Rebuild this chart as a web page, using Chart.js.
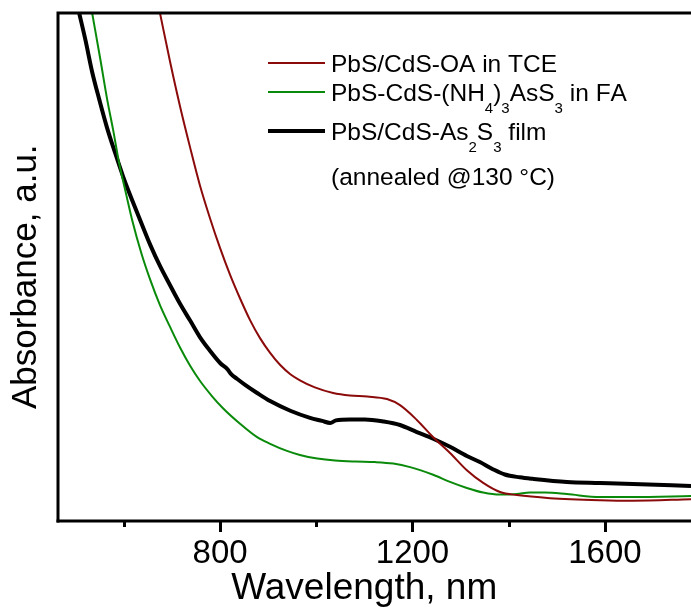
<!DOCTYPE html>
<html><head><meta charset="utf-8">
<script src="https://cdn.jsdelivr.net/npm/chart.js@4"></script>
<style>html,body{margin:0;padding:0;background:#fff;overflow:hidden}canvas{display:block}</style>
</head><body>
<canvas id="c" width="691" height="613"></canvas>
<script>
// ---- data ----
const redWavelength = [675, 696, 717, 738, 758, 779, 800, 821, 842, 862, 883, 904, 925, 946, 966, 997, 1035, 1070, 1106, 1147, 1174, 1209, 1243, 1278, 1313, 1347, 1382, 1417, 1486, 1590, 1658, 1779];
const redAbsorbance = [100, 90.4, 81.5, 73.4, 66.1, 59.6, 53.7, 48.4, 43.7, 39.6, 36.0, 33.1, 30.7, 28.9, 27.7, 26.3, 25.2, 24.7, 24.5, 24.0, 22.8, 19.9, 16.5, 13.4, 10.0, 7.5, 5.7, 5.1, 4.5, 4.1, 4.0, 4.3];

const greenWavelength = [534, 551, 565, 578, 590, 605, 617, 636, 655, 675, 696, 717, 738, 758, 783, 806, 842, 877, 904, 939, 966, 1002, 1039, 1081, 1122, 1160, 1195, 1243, 1278, 1313, 1347, 1382, 1417, 1444, 1475, 1521, 1590, 1658, 1779];
const greenAbsorbance = [100, 90.9, 83.1, 76.8, 70.5, 64.2, 59.3, 52.8, 47.4, 42.5, 38.2, 34.1, 30.5, 27.6, 24.6, 22.2, 19.1, 16.5, 15.2, 13.8, 13.0, 12.3, 11.9, 11.7, 11.6, 11.3, 10.6, 9.1, 7.7, 6.5, 5.6, 5.2, 5.3, 5.6, 5.6, 5.3, 4.7, 4.7, 4.9];

const blackWavelength = [507, 520, 534, 549, 565, 582, 598, 617, 636, 655, 675, 696, 717, 738, 758, 779, 800, 815, 823, 835, 852, 877, 904, 946, 987, 1012, 1029, 1041, 1070, 1101, 1139, 1174, 1209, 1243, 1278, 1313, 1340, 1367, 1392, 1423, 1450, 1521, 1590, 1658, 1779];
const blackAbsorbance = [100, 94.7, 88.4, 82.9, 77.4, 72.4, 67.9, 63.2, 58.7, 54.3, 50.2, 46.4, 42.7, 39.4, 36.2, 33.5, 31.1, 29.9, 28.9, 28.0, 26.8, 25.2, 23.6, 21.7, 20.3, 19.7, 19.3, 19.8, 20.0, 20.0, 19.6, 18.9, 17.5, 16.2, 14.6, 12.8, 11.6, 10.2, 9.15, 8.6, 8.3, 7.7, 7.5, 7.3, 6.9];

const seriesLabels = ['PbS/CdS-OA in TCE', 'PbS-CdS-(NH\u2084)\u2083AsS\u2083 in FA', 'PbS/CdS-As\u2082S\u2083 film'];
const legendNote = '(annealed @130 \u00b0C)';
const xTickValues = [600, 800, 1000, 1200, 1400, 1600];
const xTickLabels = ['800', '1200', '1600'];
const xTitle = 'Wavelength, nm';
const yTitle = 'Absorbance, a.u.';

const FONT = "'Liberation Sans', Arial, sans-serif";
const zip = (xs, ys) => xs.map((x, i) => ({x, y: ys[i]}));

const frameAndTicks = {
  id: 'frameAndTicks',
  afterDatasetsDraw(chart) {
    const {ctx, chartArea: {left, top, right, bottom}, scales: {x}} = chart;
    ctx.save();
    ctx.strokeStyle = '#000';
    ctx.lineWidth = 3;
    ctx.lineJoin = 'miter';
    ctx.beginPath();
    ctx.moveTo(left, bottom + 1.5);
    ctx.lineTo(left, top);
    ctx.lineTo(right + 2, top);
    ctx.stroke();
    ctx.beginPath();
    ctx.moveTo(left - 1.5, bottom);
    ctx.lineTo(right + 2, bottom);
    ctx.stroke();
    xTickValues.forEach(v => {
      const px = Math.round(x.getPixelForValue(v)) + 0.5;
      const major = xTickLabels.includes(String(v));
      ctx.beginPath();
      ctx.moveTo(px, bottom);
      ctx.lineTo(px, bottom + (major ? 11 : 6));
      ctx.stroke();
    });
    ctx.restore();
  }
};

const SUB = {'\u2080':'0','\u2081':'1','\u2082':'2','\u2083':'3','\u2084':'4','\u2085':'5','\u2086':'6','\u2087':'7','\u2088':'8','\u2089':'9'};
function drawRich(ctx, text, x, baseline, size, subSize, subDrop) {
  let cx = x;
  for (const ch of text) {
    if (SUB[ch]) {
      ctx.font = subSize + 'px ' + FONT;
      ctx.fillText(SUB[ch], cx, baseline + subDrop);
      cx += ctx.measureText(SUB[ch]).width;
    } else {
      ctx.font = size + 'px ' + FONT;
      ctx.fillText(ch, cx, baseline);
      cx += ctx.measureText(ch).width;
    }
  }
}

const curveLegend = {
  id: 'curveLegend',
  afterDraw(chart, args, o) {
    const {ctx} = chart;
    ctx.save();
    ctx.textBaseline = 'alphabetic';
    ctx.fillStyle = '#000';
    chart.data.datasets.forEach((ds, i) => {
      const y = o.rows[i];
      ctx.strokeStyle = ds.borderColor;
      ctx.lineWidth = ds.borderWidth;
      ctx.beginPath();
      ctx.moveTo(o.lineX1, y);
      ctx.lineTo(o.lineX2, y);
      ctx.stroke();
      drawRich(ctx, ds.label, o.textX, y + o.size * 0.358, o.size, o.subSize, o.subDrop);
    });
    drawRich(ctx, legendNote, o.textX, o.noteY + o.size * 0.358, o.size, o.subSize, o.subDrop);
    ctx.restore();
  }
};

new Chart(document.getElementById('c'), {
  type: 'line',
  data: {
    datasets: [
      {label: seriesLabels[0], data: zip(redWavelength, redAbsorbance), borderColor: '#8b0a0a', borderWidth: 2},
      {label: seriesLabels[1], data: zip(greenWavelength, greenAbsorbance), borderColor: '#0a8a0a', borderWidth: 2},
      {label: seriesLabels[2], data: zip(blackWavelength, blackAbsorbance), borderColor: '#000000', borderWidth: 4}
    ]
  },
  options: {
    responsive: false,
    animation: false,
    layout: {padding: {top: 13, left: 0, right: 0, bottom: 0}},
    elements: {point: {radius: 0}, line: {cubicInterpolationMode: 'monotone', fill: false}},
    plugins: {
      legend: {display: false},
      tooltip: {enabled: false},
      curveLegend: {rows: [63, 92, 131], noteY: 176, lineX1: 268, lineX2: 325, textX: 331, size: 24.5, subSize: 15, subDrop: 12}
    },
    scales: {
      x: {
        type: 'linear', min: 463, max: 1779,
        afterFit(s) { s.height = 92; },
        ticks: {
          stepSize: 200, includeBounds: false, autoSkip: false, maxRotation: 0, padding: 3,
          color: '#000', font: {family: FONT, size: 33},
          callback: v => xTickLabels.includes(String(v)) ? String(v) : ''
        },
        grid: {display: true, drawOnChartArea: false, drawTicks: true, tickLength: 10, tickColor: 'rgba(0,0,0,0)'},
        border: {display: false},
        title: {display: true, text: xTitle + '\u00a0\u00a0', color: '#000', font: {family: FONT, size: 37}, padding: {top: 0, bottom: 2}}
      },
      y: {
        min: 0, max: 100,
        afterFit(s) { s.width = 58; },
        ticks: {display: false},
        grid: {display: false},
        border: {display: false},
        title: {display: true, text: yTitle + '\u00a0\u00a0', color: '#000', font: {family: FONT, size: 35}, padding: {top: 5, bottom: 0}}
      }
    }
  },
  plugins: [frameAndTicks, curveLegend]
});
</script>
</body></html>
